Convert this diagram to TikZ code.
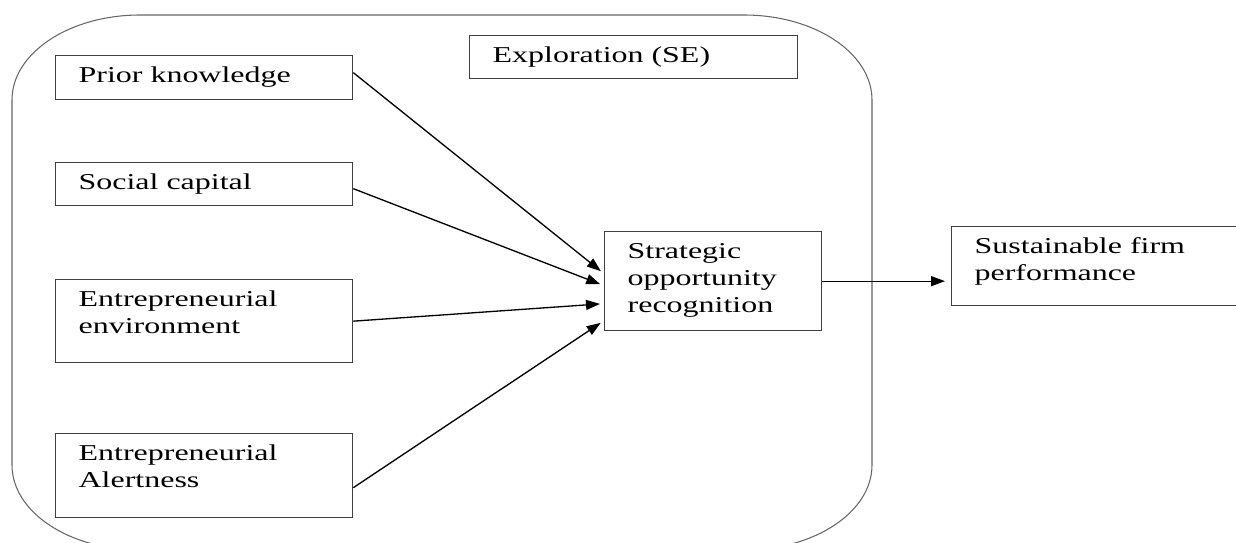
\documentclass[tikz,border=0pt]{standalone}
\usepackage{fontspec}
\setmainfont[FakeStretch=1.41]{Liberation Serif}
\usetikzlibrary{arrows.meta,calc}
\newcommand{\boxtxt}[3]{\parbox[c][#2][t]{#1}{\raggedright\leftskip=0.46cm\rule{0pt}{0.54cm}#3}}
\tikzset{
	factor/.style={draw=black!75, line width=0.75pt, inner sep=0pt, anchor=north west, font=\fontsize{12.9}{15.3}\selectfont},
	link/.style={line width=0.75pt, -{Triangle[length=0.28cm,width=0.2cm]}, shorten >=0.08cm}
}

\begin{document}
\begin{tikzpicture}
		%%%%% START %%%%%
		\useasboundingbox (0, 0) rectangle (24.72, 10.84);
		\clip (0, 0) rectangle (24.72, 10.84);
		
		% exploration frame
		\draw[black!60, line width=0.6pt] (2.80, 10.54) -- (14.88, 10.54)
			arc[start angle=90, end angle=0, x radius=2.56, y radius=1.7] -- (17.44, 1.54)
			arc[start angle=0, end angle=-90, x radius=2.56, y radius=1.7] -- (2.80, -0.16)
			arc[start angle=270, end angle=180, x radius=2.56, y radius=1.7] -- (0.24, 8.84)
			arc[start angle=180, end angle=90, x radius=2.56, y radius=1.7] -- cycle;
		
		\node[factor] (expl) at (9.38, 10.14) {\boxtxt{6.56cm}{0.86cm}{Exploration (SE)}};
		
		% antecedents
		\node[factor] (pk) at (1.10, 9.74) {\boxtxt{5.94cm}{0.88cm}{Prior knowledge}};
		\node[factor] (sc) at (1.10, 7.60) {\boxtxt{5.94cm}{0.86cm}{Social capital}};
		\node[factor] (ee) at (1.10, 5.26) {\boxtxt{5.94cm}{1.66cm}{Entrepreneurial\\environment}};
		\node[factor] (ea) at (1.10, 2.18) {\boxtxt{5.94cm}{1.68cm}{Entrepreneurial\\Alertness}};
		
		\node[factor] (sor) at (12.08, 6.22) {\boxtxt{4.34cm}{1.98cm}{Strategic\\opportunity\\recognition}};
		\node[factor] (sfp) at (19.02, 6.32) {\boxtxt{6.00cm}{1.58cm}{Sustainable firm\\performance}};
		
		\draw[link] ([yshift=0.10cm]pk.east) -- ([yshift=0.15cm]sor.west);
		\draw[link] ([yshift=-0.09cm]sc.east) -- ([yshift=-0.09cm]sor.west);
		\draw[link] (ee.east) -- ([yshift=-0.45cm]sor.west);
		\draw[link] ([yshift=-0.24cm]ea.east) -- ([yshift=-0.79cm]sor.west);
		
		\draw[link, shorten >=0.12cm] (sor.east) -- (sor.east -| sfp.west);
		
		%%%%% END %%%%%
\end{tikzpicture}
\end{document}
